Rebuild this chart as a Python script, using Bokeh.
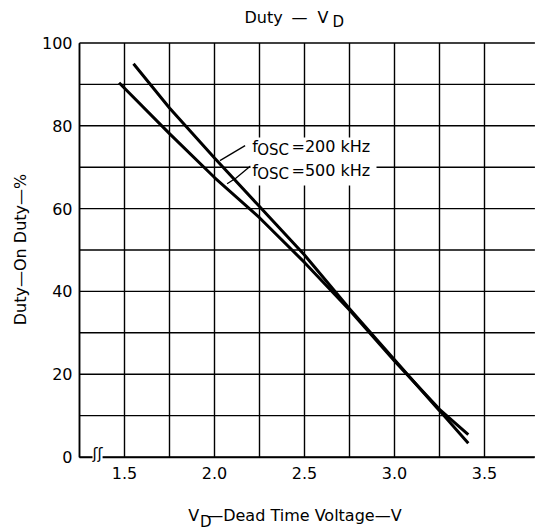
from math import pi
from bokeh.plotting import figure
from bokeh.models import FixedTicker, Label, BoxAnnotation, Range1d, LinearAxis
from bokeh.embed import file_html
from bokeh.resources import INLINE

# ---- data ----
vd_200 = [1.55, 1.75, 2.0, 2.25, 2.5, 2.75, 3.0, 3.25, 3.41]
duty_200 = [95.0, 84.3, 72.2, 60.5, 48.8, 35.8, 23.5, 11.2, 3.3]
vd_500 = [1.47, 1.75, 2.0, 2.25, 2.5, 2.75, 3.0, 3.25, 3.41]
duty_500 = [90.4, 78.1, 67.5, 57.8, 47.0, 35.5, 23.2, 11.5, 5.4]

leader_200_x = [2.03, 2.17]
leader_200_y = [71.6, 75.2]
leader_500_x = [2.07, 2.12, 2.2]
leader_500_y = [66.0, 67.4, 70.3]

x_ticks = [1.5, 2.0, 2.5, 3.0, 3.5]
x_tick_labels = ["1.5", "2.0", "2.5", "3.0", "3.5"]
x_grid = [1.25, 1.5, 1.75, 2.0, 2.25, 2.5, 2.75, 3.0, 3.25, 3.5]
y_ticks = [0, 20, 40, 60, 80, 100]
y_tick_labels = ["0", "20", "40", "60", "80", "100"]
y_grid = [0, 10, 20, 30, 40, 50, 60, 70, 80, 90, 100]

X_MIN, X_MAX = 1.25, 3.78
Y_MIN, Y_MAX = 0, 100

FONT = "DejaVu Sans"

# ---- layout: the frame fills the canvas; axes sit at fixed locations ----
W, H = 535, 529
PX_LEFT = 79.0      # pixel of x = X_MIN
PX_PER_V = 180.0
PX_ZERO = 456.5     # pixel (from top) of y = 0
PX_PER_PCT = 4.14

x_start = X_MIN - PX_LEFT / PX_PER_V
x_end = x_start + W / PX_PER_V
y_start = -(H - PX_ZERO) / PX_PER_PCT
y_end = PX_ZERO / PX_PER_PCT

p = figure(frame_width=W, frame_height=H,
           x_range=Range1d(x_start, x_end), y_range=Range1d(y_start, y_end),
           x_axis_location=None, y_axis_location=None,
           output_backend="svg", toolbar_location=None,
           min_border=0)
p.outline_line_color = None
p.background_fill_color = "white"
p.border_fill_color = "white"
for g in p.grid:
    g.visible = False

# grid lines (from the grid arrays)
p.segment(x0=x_grid, x1=x_grid, y0=[Y_MIN] * len(x_grid), y1=[Y_MAX] * len(x_grid),
          line_color="black", line_width=1.4, level="underlay")
p.segment(x0=[X_MIN] * len(y_grid), x1=[X_MAX] * len(y_grid), y0=y_grid, y1=y_grid,
          line_color="black", line_width=1.4, level="underlay")

# axes
xaxis = LinearAxis(fixed_location=Y_MIN, bounds=(X_MIN, X_MAX),
                   ticker=FixedTicker(ticks=x_ticks))
yaxis = LinearAxis(fixed_location=X_MIN, bounds=(Y_MIN, Y_MAX),
                   ticker=FixedTicker(ticks=y_ticks))
xaxis.major_label_overrides = {t: s for t, s in zip(x_ticks, x_tick_labels)}
yaxis.major_label_overrides = {t: s for t, s in zip(y_ticks, y_tick_labels)}
for ax in (xaxis, yaxis):
    ax.major_tick_line_color = None
    ax.minor_tick_line_color = None
    ax.major_tick_out = 0
    ax.major_tick_in = 0
    ax.axis_line_color = "black"
    ax.axis_line_width = 1.6
    ax.major_label_text_font = FONT
    ax.major_label_text_font_size = "16px"
    ax.major_label_text_color = "black"
xaxis.major_label_standoff = 10
yaxis.major_label_standoff = 7
p.add_layout(xaxis, "below")
p.add_layout(yaxis, "left")

# data lines
p.line(vd_200, duty_200, line_color="black", line_width=3)
p.line(vd_500, duty_500, line_color="black", line_width=3)
p.line(leader_200_x, leader_200_y, line_color="black", line_width=1.3)
p.line(leader_500_x, leader_500_y, line_color="black", line_width=1.3)

# white box behind the curve labels
p.add_layout(BoxAnnotation(left=2.2, right=2.9, bottom=65.6, top=77.2,
                           fill_color="white", fill_alpha=1.0,
                           line_color=None, level="annotation"))

BASE_FIX = 5  # alphabetic-baseline correction (px)


def lab(x, ref_y, text, size=16, fix=BASE_FIX, **kw):
    # x from the canvas' left edge; ref_y = pixel row (from top) of the baseline
    kw.setdefault("text_baseline", "alphabetic")
    p.add_layout(Label(x=x, y=H - ref_y + fix, x_units="screen", y_units="screen",
                       text=text, text_font=FONT,
                       text_font_size=f"{size}px", text_color="black", **kw))


# curve labels
lab(251.7, 151.3, "f")
lab(256.7, 154.0, "OSC", 15)
lab(291.0, 151.3, "=200 kHz")
lab(251.7, 174.7, "f")
lab(256.7, 178.0, "OSC", 15)
lab(291.0, 174.7, "=500 kHz")

# title
lab(244, 22, "Duty")
lab(291, 22, "\u2014")
lab(317, 22, "V")
lab(332, 26.7, "D", 15)

# x axis title
lab(187.7, 520, "V")
lab(199.5, 526, "D", 15)
lab(206.7, 520, "\u2014Dead Time Voltage\u2014V")

# y axis title
lab(20, 252, "Duty\u2014On Duty\u2014%", fix=3, angle=pi / 2,
    text_align="center", text_baseline="middle")

# axis break mark
lab(92, 456.5, "\u0283\u0283", 15, fix=3, text_baseline="middle",
    background_fill_color="white")

open("out.html", "w").write(file_html(p, INLINE))
